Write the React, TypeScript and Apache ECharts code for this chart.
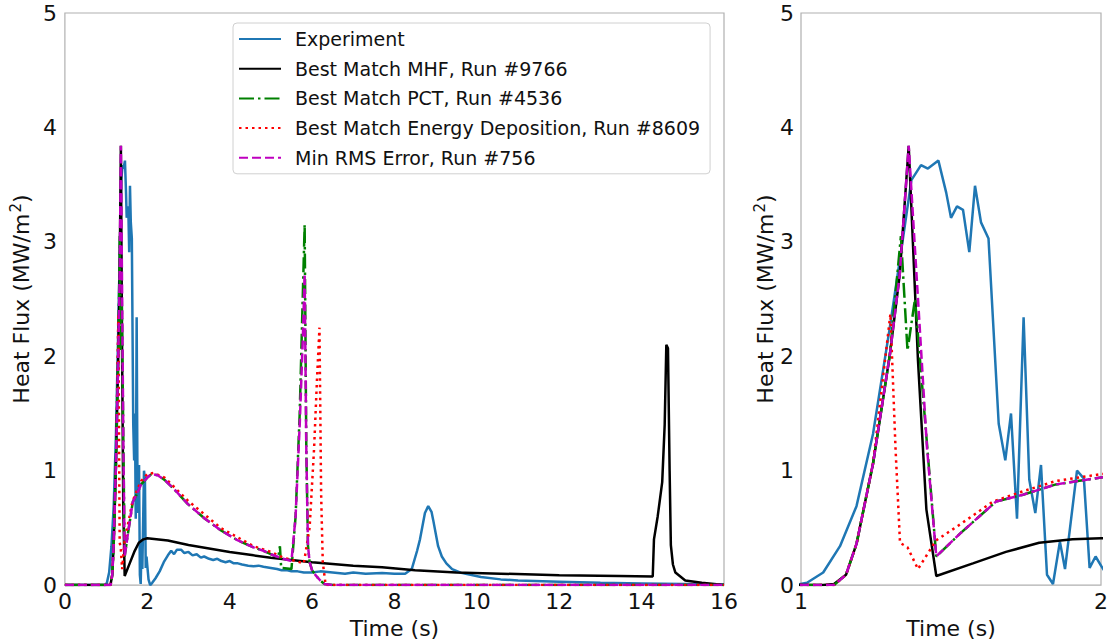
import React, { useEffect, useRef } from "react";
import * as echarts from "echarts";

// ---- Data (time in s, heat flux in MW/m^2) ----
const expT = [0, 0.98, 1.02, 1.074, 1.13, 1.185, 1.24, 1.296, 1.34, 1.368, 1.40, 1.423, 1.458, 1.484, 1.50, 1.52, 1.54, 1.561, 1.58, 1.60, 1.625, 1.659, 1.681, 1.70, 1.72, 1.742, 1.761, 1.781, 1.80, 1.82, 1.84, 1.863, 1.88, 1.92, 1.943, 1.962, 1.982, 2.0, 2.03, 2.07, 2.12, 2.2, 2.3, 2.4, 2.5, 2.58, 2.65, 2.72, 2.82, 2.9, 3.0, 3.1, 3.2, 3.3, 3.38, 3.5, 3.6, 3.7, 3.8, 3.9, 4.0, 4.1, 4.2, 4.3, 4.45, 4.58, 4.7, 4.82, 5.0, 5.15, 5.26, 5.4, 5.5, 5.65, 5.8, 6.0, 6.2, 6.5, 6.8, 7.0, 7.3, 7.7, 8.0, 8.26, 8.42, 8.55, 8.62, 8.74, 8.82, 8.9, 8.94, 9.06, 9.15, 9.26, 9.4, 9.62, 10.1, 10.58, 11.0, 12.0, 13.0, 14.0, 15.0, 16.0];
const expV = [0, 0, 0.02, 0.11, 0.34, 0.69, 1.32, 2.25, 3.03, 3.54, 3.67, 3.64, 3.71, 3.43, 3.21, 3.31, 3.28, 2.91, 3.49, 3.17, 3.03, 1.41, 1.09, 1.50, 0.58, 2.34, 0.92, 0.63, 1.05, 0.09, 0.01, 0.38, 0.14, 1.0, 0.93, 0.15, 0.25, 0.17, 0.05, 0.0, 0.02, 0.06, 0.12, 0.2, 0.26, 0.30, 0.27, 0.31, 0.31, 0.28, 0.29, 0.26, 0.27, 0.24, 0.25, 0.23, 0.22, 0.23, 0.21, 0.2, 0.21, 0.19, 0.19, 0.18, 0.17, 0.165, 0.17, 0.16, 0.15, 0.14, 0.13, 0.13, 0.12, 0.12, 0.11, 0.11, 0.12, 0.11, 0.1, 0.11, 0.1, 0.105, 0.1, 0.1, 0.14, 0.30, 0.40, 0.63, 0.69, 0.64, 0.57, 0.34, 0.25, 0.19, 0.14, 0.107, 0.07, 0.05, 0.04, 0.03, 0.02, 0.015, 0.01, 0.005];

const mhfT = [0, 1.074, 1.11, 1.15, 1.185, 1.24, 1.296, 1.329, 1.359, 1.39, 1.418, 1.451, 1.573, 1.683, 1.794, 1.905, 2.0, 2.5, 3.0, 4.0, 4.58, 5.0, 6.0, 7.0, 7.7, 8.5, 9.5, 10.58, 12.0, 13.46, 14.27, 14.3, 14.39, 14.5, 14.56, 14.6, 14.64, 14.68, 14.71, 14.76, 14.82, 15.06, 15.46, 16];
const mhfV = [0, 0, 0.01, 0.09, 0.36, 1.06, 2.01, 2.71, 3.84, 1.96, 0.66, 0.08, 0.19, 0.29, 0.37, 0.40, 0.41, 0.39, 0.35, 0.29, 0.26, 0.24, 0.20, 0.17, 0.155, 0.13, 0.11, 0.10, 0.085, 0.08, 0.075, 0.40, 0.6, 0.9, 1.4, 2.10, 2.07, 1.0, 0.35, 0.18, 0.11, 0.04, 0.02, 0];

const pctT = [0, 1.11, 1.15, 1.185, 1.24, 1.296, 1.333, 1.355, 1.38, 1.451, 1.53, 1.65, 1.74, 1.85, 2.0, 2.1, 2.25, 2.42, 2.7, 2.98, 3.4, 3.78, 4.2, 4.58, 4.82, 5.0, 5.18, 5.22, 5.25, 5.5, 5.6, 5.7, 5.78, 5.82, 5.86, 5.9, 5.94, 6.0, 6.1, 6.2, 6.3, 6.5, 16];
const pctV = [0, 0, 0.09, 0.36, 1.06, 2.01, 3.05, 2.05, 2.5, 0.25, 0.45, 0.73, 0.79, 0.88, 0.94, 0.97, 0.96, 0.92, 0.82, 0.71, 0.58, 0.48, 0.39, 0.33, 0.30, 0.27, 0.24, 0.34, 0.15, 0.14, 0.6, 1.5, 2.6, 3.15, 1.2, 0.35, 0.2, 0.13, 0.08, 0.04, 0.01, 0, 0];

const engT = [0, 1.11, 1.15, 1.185, 1.24, 1.298, 1.315, 1.33, 1.355, 1.39, 1.45, 1.53, 1.64, 1.74, 1.85, 2.0, 2.15, 2.42, 2.98, 3.78, 4.58, 5.0, 5.3, 5.6, 5.8, 5.94, 6.05, 6.12, 6.18, 6.22, 6.26, 6.33, 16];
const engV = [0, 0, 0.09, 0.36, 1.06, 2.37, 1.2, 0.37, 0.33, 0.14, 0.39, 0.53, 0.73, 0.82, 0.91, 0.97, 0.98, 0.94, 0.74, 0.5, 0.34, 0.29, 0.24, 0.21, 0.19, 0.5, 1.2, 1.8, 2.25, 0.8, 0.2, 0.0, 0];

const rmsT = [0, 1.11, 1.15, 1.185, 1.24, 1.296, 1.329, 1.359, 1.39, 1.42, 1.451, 1.53, 1.65, 1.74, 1.85, 2.0, 2.1, 2.25, 2.42, 2.7, 2.98, 3.4, 3.78, 4.2, 4.58, 4.82, 5.0, 5.3, 5.5, 5.6, 5.7, 5.78, 5.82, 5.86, 5.9, 5.94, 6.0, 6.1, 6.2, 6.3, 6.5, 16];
const rmsV = [0, 0, 0.09, 0.36, 1.06, 2.01, 2.71, 3.84, 2.5, 1.2, 0.25, 0.45, 0.73, 0.79, 0.88, 0.94, 0.97, 0.96, 0.92, 0.82, 0.71, 0.58, 0.48, 0.39, 0.33, 0.30, 0.27, 0.23, 0.21, 0.6, 1.4, 2.2, 2.72, 1.2, 0.35, 0.2, 0.13, 0.08, 0.04, 0.01, 0, 0];

const leftXTicks = { min: 0, max: 16, interval: 2 };
const rightXTicks = { min: 1, max: 2, interval: 1 };
const yTicks = { min: 0, max: 5, interval: 1 };

const seriesDefs = [
  { name: "Experiment", t: expT, v: expV, color: "#1f77b4", type: "solid" as any },
  { name: "Best Match MHF, Run #9766", t: mhfT, v: mhfV, color: "#000000", type: "solid" as any },
  { name: "Best Match PCT, Run #4536", t: pctT, v: pctV, color: "#008000", type: [15, 4, 2.5, 4] as any },
  { name: "Best Match Energy Deposition, Run #8609", t: engT, v: engV, color: "#ff0000", type: [2.5, 4] as any },
  { name: "Min RMS Error, Run #756", t: rmsT, v: rmsV, color: "#bf00bf", type: [9, 4] as any },
];

const FONT = "DejaVu Sans";

function pairs(t: number[], v: number[]) {
  const n = Math.min(t.length, v.length);
  const out: number[][] = [];
  for (let i = 0; i < n; i++) out.push([t[i], v[i]]);
  return out;
}

export default function App() {
  const ref = useRef<HTMLDivElement>(null);
  useEffect(() => {
    if (!ref.current) return;
    const chart = echarts.init(ref.current, undefined, { renderer: "svg" });
    const axisLabel = { color: "#111", fontSize: 22, fontFamily: FONT };
    const nameStyle = { color: "#111", fontSize: 22, fontFamily: FONT };
    const yNameStyle = {
      color: "#111",
      fontSize: 22,
      fontFamily: FONT,
      rich: {
        a: { fontSize: 22, fontFamily: FONT, color: "#111", lineHeight: 26 },
        b: { fontSize: 15, fontFamily: FONT, color: "#111", lineHeight: 26, verticalAlign: "top", padding: [0, 0, 0, 1] },
      },
    };
    const yName = "{a|Heat Flux (MW/m}{b|2}{a|)}";
    const series: any[] = [];
    [0, 1].forEach((ai) => {
      seriesDefs.forEach((s) => {
        series.push({
          name: s.name,
          type: "line",
          xAxisIndex: ai,
          yAxisIndex: ai,
          data: pairs(s.t, s.v),
          showSymbol: false,
          symbol: "none",
          clip: true,
          lineStyle: { color: s.color, width: 2.5, type: s.type },
          itemStyle: { color: s.color },
          emphasis: { disabled: true },
        });
      });
    });
    chart.setOption({
      animation: false,
      textStyle: { fontFamily: FONT },
      grid: [
        { left: 59, top: 13, width: 665, height: 576, show: true, borderColor: "#b0b0b0", borderWidth: 1.2, backgroundColor: "#fff" },
        { left: 801, top: 13, width: 301, height: 576, show: true, borderColor: "#b0b0b0", borderWidth: 1.2, backgroundColor: "#fff" },
      ],
      xAxis: [
        {
          type: "value", gridIndex: 0, ...leftXTicks,
          name: "Time (s)", nameLocation: "middle", nameGap: 28, nameTextStyle: nameStyle,
          axisLine: { show: false }, axisTick: { show: false }, splitLine: { show: false },
          axisLabel: { ...axisLabel, margin: 5 },
        },
        {
          type: "value", gridIndex: 1, ...rightXTicks,
          name: "Time (s)", nameLocation: "middle", nameGap: 28, nameTextStyle: nameStyle,
          axisLine: { show: false }, axisTick: { show: false }, splitLine: { show: false },
          axisLabel: { ...axisLabel, margin: 5 },
        },
      ],
      yAxis: [
        {
          type: "value", gridIndex: 0, ...yTicks,
          name: yName, nameLocation: "middle", nameGap: 21, nameRotate: 90, nameTextStyle: yNameStyle,
          axisLine: { show: false }, axisTick: { show: false }, splitLine: { show: false },
          axisLabel: { ...axisLabel, margin: 8 },
        },
        {
          type: "value", gridIndex: 1, ...yTicks,
          name: yName, nameLocation: "middle", nameGap: 22, nameRotate: 90, nameTextStyle: yNameStyle,
          axisLine: { show: false }, axisTick: { show: false }, splitLine: { show: false },
          axisLabel: { ...axisLabel, margin: 7 },
        },
      ],
      legend: {
        data: seriesDefs.map((s) => s.name),
        orient: "vertical",
        left: 233,
        top: 23,
        itemWidth: 42,
        itemHeight: 20,
        itemGap: 9.7,
        padding: [6, 10, 6, 5],
        backgroundColor: "rgba(255,255,255,0.85)",
        borderColor: "#d0d0d0",
        borderWidth: 1,
        borderRadius: 4,
        selectedMode: false,
        itemStyle: { opacity: 0 },
        textStyle: { fontSize: 19, fontFamily: FONT, color: "#111", lineHeight: 20, padding: [0, 0, 0, 9] },
      },
      series,
    });
    return () => chart.dispose();
  }, []);
  return (
    <div
      ref={ref}
      style={{ position: "fixed", left: 0, top: 0, width: 1111, height: 644, background: "#fff" }}
    />
  );
}
